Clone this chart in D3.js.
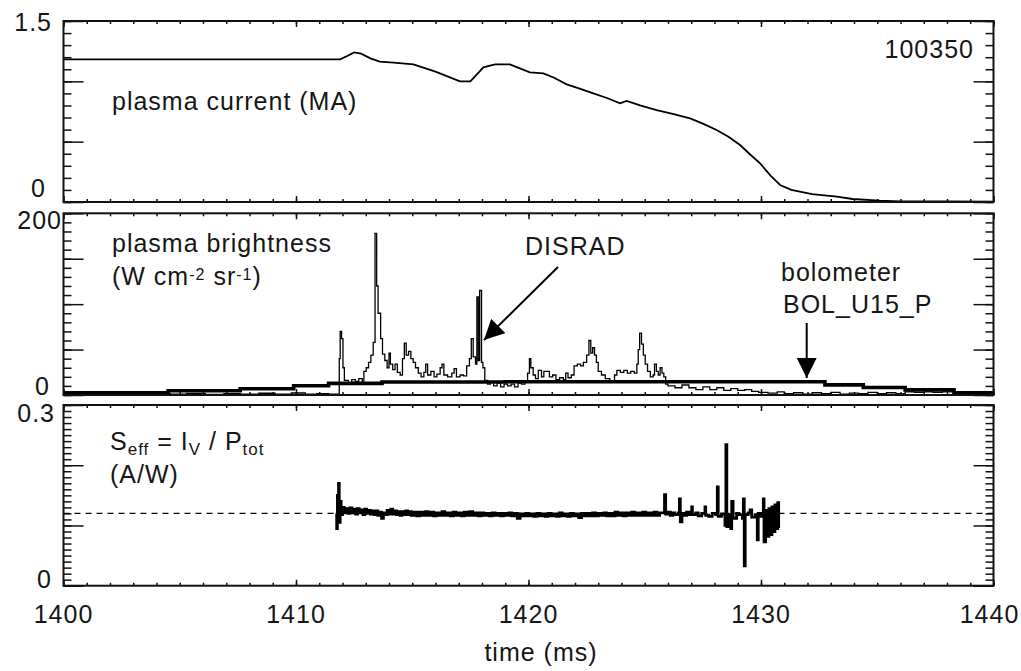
<!DOCTYPE html>
<html>
<head>
<meta charset="utf-8">
<script src="https://cdn.jsdelivr.net/npm/d3@7"></script>
<style>
  html, body { margin: 0; padding: 0; background: #fff; }
  text { font-family: "Liberation Sans", Arial, Helvetica, sans-serif; fill: #161616; letter-spacing: 1px; }
</style>
</head>
<body>
<svg id="chart" width="1021" height="671"></svg>
<script>
// ---- time axis ----
const timeDomain = [1400, 1440];
const timeTickLabels = ["1400", "1410", "1420", "1430", "1440"];

// ---- panel 1: plasma current (MA) ----
const currentTickLabels = ["0", "1.5"];
const currentSeries = [
  [1400.0, 1.182], [1404.0, 1.182], [1408.0, 1.182], [1411.9, 1.182], [1412.2, 1.21],
  [1412.5, 1.24], [1412.8, 1.23], [1413.2, 1.19], [1413.6, 1.163], [1414.2, 1.155],
  [1415.05, 1.141], [1416.0, 1.08], [1417.05, 1.0], [1417.5, 1.0], [1418.06, 1.116],
  [1418.56, 1.141], [1419.2, 1.141], [1419.6, 1.11], [1420.06, 1.075], [1420.64, 1.066],
  [1421.1, 1.03], [1421.64, 0.975], [1422.2, 0.94], [1422.79, 0.90], [1423.4, 0.86],
  [1423.94, 0.818], [1424.22, 0.837], [1424.8, 0.80], [1425.51, 0.762], [1426.2, 0.73],
  [1426.95, 0.693], [1427.5, 0.65], [1428.09, 0.597], [1428.6, 0.54], [1429.1, 0.472],
  [1429.5, 0.40], [1429.96, 0.321], [1430.4, 0.22], [1430.82, 0.141], [1431.3, 0.10],
  [1432.2, 0.066], [1433.26, 0.044], [1433.94, 0.025], [1435.1, 0.012], [1436.0, 0.006],
  [1438.0, 0.004], [1440.0, 0.003]
];

// ---- panel 2: plasma brightness (W cm^-2 sr^-1) ----
const brightnessTickLabels = ["0", "200"];
const bolometerSeries = [
  [1400.0, 2.5], [1404.5, 4.6], [1407.6, 6.8], [1409.9, 10.2], [1411.4, 12.8],
  [1413.7, 14.3], [1419.0, 14.6], [1432.75, 11.2], [1434.4, 8.2], [1436.2, 5.6],
  [1438.3, 2.5], [1440.0, 2.5]
];
const disradSeries = [
  [1400.0, 1.0], [1400.8, 1.8], [1401.5, 0.8], [1402.3, 1.5], [1403.0, 0.6], [1403.8, 1.6],
  [1404.6, 0.9], [1405.3, 1.8], [1406.1, 0.7], [1406.9, 1.4], [1407.6, 0.8], [1408.4, 1.9],
  [1409.1, 1.0], [1409.8, 2.2], [1410.4, 0.9], [1410.9, 1.6], [1411.4, 0.8],
  [1411.86, 40], [1411.90, 70], [1411.96, 62], [1412.02, 30], [1412.08, 16], [1412.25, 13],
  [1412.40, 17], [1412.55, 15], [1412.70, 18], [1412.85, 14], [1412.92, 26], [1413.02, 30],
  [1413.12, 36], [1413.22, 44], [1413.32, 58], [1413.40, 178], [1413.47, 120], [1413.53, 90],
  [1413.64, 62], [1413.72, 45], [1413.82, 38], [1413.92, 30], [1414.00, 46], [1414.06, 34],
  [1414.16, 28], [1414.26, 34], [1414.36, 25], [1414.48, 22], [1414.58, 40], [1414.66, 57],
  [1414.74, 44], [1414.84, 48], [1414.94, 40], [1415.04, 36], [1415.14, 30], [1415.26, 24],
  [1415.38, 20], [1415.50, 25], [1415.58, 34], [1415.66, 22], [1415.80, 26], [1415.94, 20],
  [1416.06, 23], [1416.20, 30], [1416.28, 34], [1416.36, 22], [1416.52, 20], [1416.70, 24],
  [1416.80, 29], [1416.90, 20], [1417.06, 22], [1417.20, 21], [1417.34, 32], [1417.46, 40],
  [1417.54, 62], [1417.62, 42], [1417.72, 34], [1417.78, 108], [1417.84, 38], [1417.90, 115],
  [1417.98, 36], [1418.04, 30], [1418.12, 16], [1418.24, 12], [1418.36, 14], [1418.50, 10],
  [1418.65, 13], [1418.80, 9], [1418.95, 12], [1419.10, 10], [1419.25, 12], [1419.40, 9],
  [1419.55, 13], [1419.70, 12], [1419.85, 14], [1419.96, 24], [1420.04, 40], [1420.10, 30],
  [1420.20, 22], [1420.30, 18], [1420.42, 27], [1420.56, 20], [1420.66, 26], [1420.76, 26],
  [1420.90, 20], [1421.04, 22], [1421.18, 17], [1421.34, 19], [1421.50, 17], [1421.60, 24],
  [1421.70, 19], [1421.84, 22], [1421.96, 32], [1422.10, 34], [1422.24, 32], [1422.36, 36],
  [1422.50, 44], [1422.60, 60], [1422.68, 46], [1422.76, 52], [1422.84, 44], [1422.92, 36],
  [1423.00, 26], [1423.14, 22], [1423.30, 18], [1423.50, 14], [1423.70, 22], [1423.80, 27],
  [1423.95, 25], [1424.10, 27], [1424.25, 24], [1424.40, 26], [1424.55, 24], [1424.66, 34],
  [1424.72, 50], [1424.78, 68], [1424.86, 56], [1424.94, 44], [1425.02, 34], [1425.12, 26],
  [1425.24, 20], [1425.36, 22], [1425.42, 34], [1425.50, 26], [1425.58, 22], [1425.66, 30],
  [1425.74, 24], [1425.82, 20], [1425.90, 12], [1426.0, 10], [1426.3, 8], [1426.6, 11],
  [1426.9, 8], [1427.2, 6], [1427.5, 9], [1427.8, 6], [1428.1, 8], [1428.4, 5], [1428.7, 7],
  [1429.0, 5], [1429.3, 6], [1429.6, 4], [1429.9, 3], [1430.3, 2], [1430.7, 3.5], [1431.0, 1.5],
  [1431.4, 2.5], [1431.8, 1], [1432.2, 2.5], [1432.6, 1.5], [1433.0, 3], [1433.4, 1],
  [1433.8, 2], [1434.2, 1.5], [1434.6, 3], [1435.0, 1.5], [1435.4, 2.5], [1435.8, 1.5],
  [1436.2, 3.5], [1436.6, 3], [1437.0, 3.5], [1437.4, 3], [1437.8, 3.5], [1438.2, 3.8],
  [1438.5, 1], [1439.0, 0.5], [1440.0, 0.5]
];

// ---- panel 3: S_eff = I_V / P_tot (A/W) ----
const seffTickLabels = ["0", "0.3"];
const seffReference = 0.12;
const seffSeries = [
  [1411.72, 0.120], [1411.75, 0.095], [1411.78, 0.150], [1411.80, 0.110], [1411.83, 0.170],
  [1411.86, 0.105], [1411.90, 0.140], [1411.94, 0.118], [1412.00, 0.130], [1412.08, 0.121],
  [1412.16, 0.128], [1412.24, 0.120], [1412.32, 0.129], [1412.40, 0.121], [1412.48, 0.127],
  [1412.56, 0.119], [1412.64, 0.128], [1412.72, 0.121], [1412.80, 0.126], [1412.88, 0.118],
  [1412.96, 0.127], [1413.04, 0.120], [1413.12, 0.125], [1413.20, 0.119], [1413.28, 0.124],
  [1413.36, 0.118], [1413.44, 0.124], [1413.52, 0.117], [1413.60, 0.122], [1413.68, 0.112],
  [1413.76, 0.121], [1413.84, 0.118], [1413.92, 0.125], [1414.00, 0.119], [1414.08, 0.127],
  [1414.16, 0.119], [1414.24, 0.124], [1414.32, 0.118], [1414.40, 0.123], [1414.48, 0.117],
  [1414.56, 0.123], [1414.64, 0.118], [1414.72, 0.124], [1414.80, 0.118], [1414.88, 0.123],
  [1414.96, 0.117], [1415.08, 0.122], [1415.20, 0.116], [1415.32, 0.122], [1415.44, 0.117],
  [1415.56, 0.123], [1415.68, 0.117], [1415.80, 0.122], [1415.92, 0.116], [1416.04, 0.121],
  [1416.16, 0.117], [1416.28, 0.123], [1416.40, 0.117], [1416.52, 0.121], [1416.64, 0.116],
  [1416.76, 0.122], [1416.88, 0.117], [1417.00, 0.121], [1417.12, 0.116], [1417.24, 0.122],
  [1417.36, 0.117], [1417.48, 0.123], [1417.60, 0.117], [1417.72, 0.121], [1417.84, 0.116],
  [1417.96, 0.121], [1418.08, 0.117], [1418.20, 0.120], [1418.32, 0.116], [1418.44, 0.121],
  [1418.56, 0.117], [1418.68, 0.120], [1418.80, 0.116], [1418.92, 0.120], [1419.04, 0.117],
  [1419.16, 0.121], [1419.28, 0.116], [1419.40, 0.120], [1419.52, 0.112], [1419.64, 0.119],
  [1419.76, 0.116], [1419.88, 0.120], [1420.00, 0.116], [1420.12, 0.119], [1420.24, 0.115],
  [1420.36, 0.120], [1420.48, 0.116], [1420.60, 0.119], [1420.72, 0.115], [1420.84, 0.120],
  [1420.96, 0.116], [1421.08, 0.119], [1421.20, 0.115], [1421.32, 0.121], [1421.44, 0.116],
  [1421.56, 0.119], [1421.68, 0.115], [1421.80, 0.120], [1421.92, 0.116], [1422.04, 0.119],
  [1422.16, 0.113], [1422.28, 0.120], [1422.40, 0.116], [1422.52, 0.120], [1422.64, 0.116],
  [1422.76, 0.121], [1422.88, 0.116], [1423.00, 0.120], [1423.12, 0.117], [1423.24, 0.121],
  [1423.36, 0.116], [1423.48, 0.120], [1423.60, 0.116], [1423.72, 0.122], [1423.84, 0.117],
  [1423.96, 0.121], [1424.08, 0.116], [1424.20, 0.121], [1424.32, 0.117], [1424.44, 0.122],
  [1424.56, 0.117], [1424.68, 0.121], [1424.80, 0.117], [1424.92, 0.122], [1425.04, 0.117],
  [1425.16, 0.121], [1425.28, 0.117], [1425.40, 0.122], [1425.52, 0.117], [1425.64, 0.121],
  [1425.80, 0.121], [1425.85, 0.151], [1425.90, 0.119], [1426.00, 0.122], [1426.10, 0.117],
  [1426.20, 0.121], [1426.30, 0.118], [1426.45, 0.121], [1426.49, 0.144], [1426.53, 0.106],
  [1426.60, 0.120], [1426.70, 0.117], [1426.80, 0.122], [1426.90, 0.118], [1427.00, 0.120],
  [1427.02, 0.131], [1427.05, 0.118], [1427.20, 0.121], [1427.30, 0.116], [1427.45, 0.120],
  [1427.59, 0.131], [1427.62, 0.117], [1427.75, 0.115], [1427.90, 0.120], [1428.05, 0.118],
  [1428.12, 0.164], [1428.16, 0.115], [1428.30, 0.119], [1428.45, 0.100], [1428.49, 0.234],
  [1428.53, 0.098], [1428.60, 0.118], [1428.70, 0.095], [1428.74, 0.140], [1428.80, 0.112],
  [1428.95, 0.120], [1429.05, 0.118], [1429.20, 0.112], [1429.24, 0.144], [1429.28, 0.033],
  [1429.32, 0.118], [1429.45, 0.121], [1429.53, 0.126], [1429.60, 0.114], [1429.75, 0.118],
  [1429.84, 0.076], [1429.88, 0.120], [1430.00, 0.115], [1430.10, 0.144], [1430.13, 0.073],
  [1430.20, 0.125], [1430.27, 0.082], [1430.34, 0.128], [1430.40, 0.085], [1430.47, 0.131],
  [1430.53, 0.090], [1430.60, 0.134], [1430.66, 0.095], [1430.72, 0.138], [1430.76, 0.096]
];

// ---- layout ----
const svg = d3.select("#chart");
const x = d3.scaleLinear().domain(timeDomain).range([63.5, 993.5]);

const panels = [
  { id: "current", top: 21, bottom: 202, domain: [0, 1.5], major: 0.5, minor: 0.1,
    labels: currentTickLabels, labelPos: [[46, -5], [52, 10]] },
  { id: "brightness", top: 213.3, bottom: 395, domain: [0, 200], major: 50, minor: 10,
    labels: brightnessTickLabels, labelPos: [[50, 0], [62, 16]] },
  { id: "seff", top: 405, bottom: 585.7, domain: [0, 0.3], major: 0.1, minor: 0.01,
    labels: seffTickLabels, labelPos: [[52, 2], [55, 17]] }
];

const FS = 25;      // main font size
const SUB = 16;     // sub/superscript size

function ticksOf(domain, step) {
  const n = Math.round((domain[1] - domain[0]) / step);
  return d3.range(n + 1).map(i => +(domain[0] + i * step).toFixed(6));
}

const xMinor = ticksOf(timeDomain, 1);
const xMajor = ticksOf(timeDomain, 10);

panels.forEach(p => {
  p.y = d3.scaleLinear().domain(p.domain).range([p.bottom, p.top]);
  const g = svg.append("g").attr("class", "panel-" + p.id);

  // clip region for the data traces
  svg.append("clipPath").attr("id", "clip-" + p.id)
    .append("rect").attr("x", x.range()[0]).attr("y", p.top)
    .attr("width", x.range()[1] - x.range()[0]).attr("height", p.bottom - p.top);

  const yMinor = ticksOf(p.domain, p.minor);
  const yMajor = ticksOf(p.domain, p.major);

  const styleAxis = sel => {
    sel.select(".domain").remove();
    sel.selectAll("text").remove();
    sel.selectAll("line").attr("stroke", "#111").attr("stroke-width", 1.5);
  };

  // x ticks, inward on bottom and top edges
  g.append("g").attr("transform", `translate(0,${p.bottom})`)
    .call(d3.axisBottom(x).tickValues(xMinor).tickSize(-3)).call(styleAxis);
  g.append("g").attr("transform", `translate(0,${p.bottom})`)
    .call(d3.axisBottom(x).tickValues(xMajor).tickSize(-6)).call(styleAxis);
  g.append("g").attr("transform", `translate(0,${p.top})`)
    .call(d3.axisTop(x).tickValues(xMinor).tickSize(-3)).call(styleAxis);
  g.append("g").attr("transform", `translate(0,${p.top})`)
    .call(d3.axisTop(x).tickValues(xMajor).tickSize(-6)).call(styleAxis);

  // y ticks, inward on left and right edges
  g.append("g").attr("transform", `translate(${x.range()[0]},0)`)
    .call(d3.axisLeft(p.y).tickValues(yMinor).tickSize(-8)).call(styleAxis);
  g.append("g").attr("transform", `translate(${x.range()[0]},0)`)
    .call(d3.axisLeft(p.y).tickValues(yMajor).tickSize(-20)).call(styleAxis);
  g.append("g").attr("transform", `translate(${x.range()[1]},0)`)
    .call(d3.axisRight(p.y).tickValues(yMinor).tickSize(-8)).call(styleAxis);
  g.append("g").attr("transform", `translate(${x.range()[1]},0)`)
    .call(d3.axisRight(p.y).tickValues(yMajor).tickSize(-20)).call(styleAxis);

  // y tick labels (only the ends are labelled)
  p.labels.forEach((lab, i) => {
    g.append("text")
      .attr("x", p.labelPos[i][0])
      .attr("y", p.y(+lab) + p.labelPos[i][1])
      .attr("text-anchor", "end")
      .attr("font-size", FS)
      .text(lab);
  });

  p.g = g;
  p.plot = svg.append("g").attr("clip-path", `url(#clip-${p.id})`);
});

// ---- traces ----
const [pCur, pBri, pSeff] = panels;

const lineCurrent = d3.line().x(d => x(d[0])).y(d => pCur.y(d[1]));
pCur.plot.append("path").datum(currentSeries)
  .attr("d", lineCurrent).attr("fill", "none").attr("stroke", "#000").attr("stroke-width", 1.8);

const stepBri = d3.line().x(d => x(d[0])).y(d => pBri.y(d[1])).curve(d3.curveStepAfter);
pBri.plot.append("path").datum(bolometerSeries)
  .attr("d", stepBri).attr("fill", "none").attr("stroke", "#000").attr("stroke-width", 3.6);
pBri.plot.append("path").datum(disradSeries)
  .attr("d", stepBri).attr("fill", "none").attr("stroke", "#000").attr("stroke-width", 1.3);

pSeff.plot.append("line")
  .attr("x1", x(timeDomain[0])).attr("x2", x(timeDomain[1]))
  .attr("y1", pSeff.y(seffReference)).attr("y2", pSeff.y(seffReference))
  .attr("stroke", "#000").attr("stroke-width", 1.4).attr("stroke-dasharray", "6,5");
const stepSeff = d3.line().x(d => x(d[0])).y(d => pSeff.y(d[1])).curve(d3.curveStepAfter);
pSeff.plot.append("path").datum(seffSeries)
  .attr("d", stepSeff).attr("fill", "none").attr("stroke", "#000").attr("stroke-width", 2.8);

// ---- frames ----
panels.forEach(p => {
  svg.append("rect")
    .attr("x", x.range()[0]).attr("y", p.top)
    .attr("width", x.range()[1] - x.range()[0]).attr("height", p.bottom - p.top)
    .attr("fill", "none").attr("stroke", "#111").attr("stroke-width", 2);
});

// ---- x tick labels & title ----
timeTickLabels.forEach((lab, i) => {
  // keep the last label inside the page edge
  const shift = i === timeTickLabels.length - 1 ? -4 : 0;
  svg.append("text").attr("x", x(+lab) + shift).attr("y", 623)
    .attr("text-anchor", "middle").attr("font-size", FS).text(lab);
});
svg.append("text").attr("x", 541).attr("y", 661)
  .attr("text-anchor", "middle").attr("font-size", FS).text("time (ms)");

// ---- annotations ----
const txt = (xp, yp, s, anchor) => svg.append("text").attr("x", xp).attr("y", yp)
  .attr("font-size", FS).attr("text-anchor", anchor || "start").text(s);

txt(112, 110, "plasma current (MA)");
txt(974, 58, "100350", "end");

txt(112, 252, "plasma brightness");
const unitsLabel = svg.append("text").attr("x", 112).attr("y", 285).attr("font-size", FS);
unitsLabel.append("tspan").text("(W cm");
unitsLabel.append("tspan").attr("font-size", SUB).attr("dy", -5).text("-2");
unitsLabel.append("tspan").attr("dy", 5).text(" sr");
unitsLabel.append("tspan").attr("font-size", SUB).attr("dy", -5).text("-1");
unitsLabel.append("tspan").attr("dy", 5).text(")");

txt(525, 255, "DISRAD");
txt(781, 281, "bolometer");
txt(783, 313, "BOL_U15_P");

const seffLabel = svg.append("text").attr("x", 110).attr("y", 450).attr("font-size", FS);
seffLabel.append("tspan").text("S");
seffLabel.append("tspan").attr("font-size", SUB + 1).attr("dy", 5).text("eff");
seffLabel.append("tspan").attr("dy", -5).text(" = I");
seffLabel.append("tspan").attr("font-size", SUB + 1).attr("dy", 5).text("V");
seffLabel.append("tspan").attr("dy", -5).text(" / P");
seffLabel.append("tspan").attr("font-size", SUB + 1).attr("dy", 5).text("tot");
txt(110, 483, "(A/W)");

// arrows
const defs = svg.append("defs");
defs.append("marker").attr("id", "head").attr("viewBox", "0 0 10 10")
  .attr("refX", 10).attr("refY", 5).attr("markerUnits", "userSpaceOnUse")
  .attr("markerWidth", 20).attr("markerHeight", 20).attr("orient", "auto")
  .append("path").attr("d", "M0,0 L10,5 L0,10 Z").attr("fill", "#000");

svg.append("line").attr("x1", 558).attr("y1", 267).attr("x2", 484).attr("y2", 340)
  .attr("stroke", "#000").attr("stroke-width", 2).attr("marker-end", "url(#head)");
svg.append("line").attr("x1", 806.7).attr("y1", 323).attr("x2", 806.7).attr("y2", 378)
  .attr("stroke", "#000").attr("stroke-width", 2).attr("marker-end", "url(#head)");
</script>
</body>
</html>
